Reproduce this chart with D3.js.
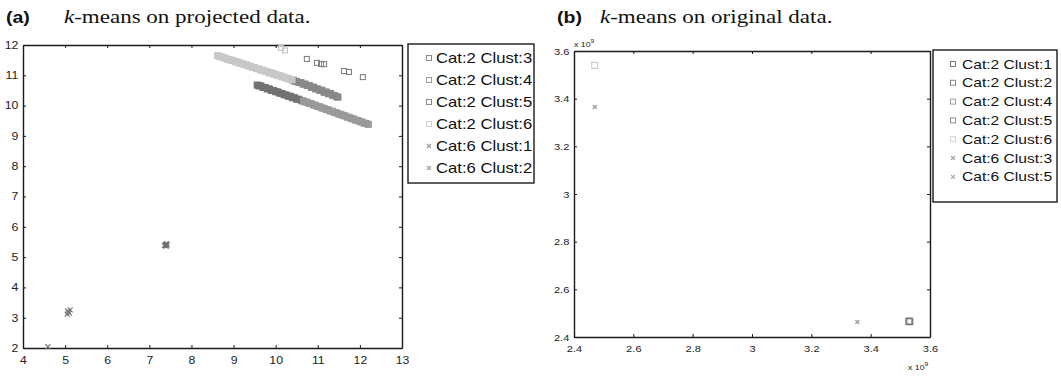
<!DOCTYPE html>
<html>
<head>
<meta charset="utf-8">
<script src="https://cdn.jsdelivr.net/npm/d3@7/dist/d3.min.js"></script>
<style>
  body { margin: 0; background: #fff; }
  svg { display: block; }
</style>
</head>
<body>
<svg id="fig" width="1061" height="376"></svg>
<script>
// ---------- panel (a): k-means on projected data ----------
const projXTicks = [4, 5, 6, 7, 8, 9, 10, 11, 12, 13];
const projYTicks = [2, 3, 4, 5, 6, 7, 8, 9, 10, 11, 12];
const projLegend = ["Cat:2 Clust:3", "Cat:2 Clust:4", "Cat:2 Clust:5", "Cat:2 Clust:6", "Cat:6 Clust:1", "Cat:6 Clust:2"];

// isolated members of each cluster
const projC2Clust3 = [[10.74, 11.54], [10.98, 11.41], [11.08, 11.37], [11.15, 11.37], [11.62, 11.14], [11.74, 11.11], [12.07, 10.94]];
const projC2Clust6 = [[10.13, 11.90], [10.22, 11.82]];
// densely packed members (the diagonal streaks)
const projC2Clust3Dense = [
  [9.56, 10.68], [9.60, 10.65], [9.65, 10.65], [9.70, 10.60], [9.75, 10.60], [9.80, 10.55], [9.85, 10.55],
  [9.90, 10.50], [9.95, 10.50], [10.00, 10.46], [10.05, 10.45], [10.10, 10.41], [10.15, 10.40], [10.20, 10.36],
  [10.25, 10.35], [10.30, 10.31], [10.35, 10.31], [10.40, 10.26], [10.45, 10.26], [10.50, 10.21], [10.55, 10.21],
  [10.62, 10.16]
];
const projC2Clust4Dense = [
  [10.66, 10.15], [10.70, 10.12], [10.75, 10.11], [10.80, 10.07], [10.85, 10.06], [10.90, 10.02], [10.95, 10.01],
  [11.00, 9.97], [11.05, 9.96], [11.10, 9.92], [11.15, 9.91], [11.20, 9.87], [11.25, 9.86], [11.30, 9.82],
  [11.35, 9.81], [11.40, 9.77], [11.45, 9.76], [11.50, 9.72], [11.55, 9.71], [11.60, 9.67], [11.65, 9.66],
  [11.70, 9.62], [11.75, 9.61], [11.80, 9.57], [11.85, 9.56], [11.90, 9.52], [11.95, 9.51], [12.00, 9.47],
  [12.05, 9.46], [12.10, 9.42], [12.15, 9.41], [12.20, 9.38]
];
const projC2Clust5Dense = [
  [10.42, 10.84], [10.46, 10.80], [10.50, 10.80], [10.55, 10.76], [10.60, 10.76], [10.65, 10.71], [10.70, 10.71],
  [10.75, 10.66], [10.80, 10.66], [10.85, 10.60], [10.90, 10.61], [10.95, 10.55], [11.00, 10.55], [11.05, 10.50],
  [11.10, 10.51], [11.15, 10.44], [11.20, 10.45], [11.25, 10.39], [11.30, 10.40], [11.35, 10.34], [11.40, 10.33],
  [11.45, 10.29], [11.48, 10.28]
];
const projC2Clust6Dense = [
  [8.62, 11.65], [8.66, 11.62], [8.70, 11.62], [8.75, 11.58], [8.80, 11.57], [8.85, 11.53], [8.90, 11.52],
  [8.95, 11.49], [9.00, 11.48], [9.05, 11.44], [9.10, 11.44], [9.15, 11.40], [9.20, 11.39], [9.25, 11.35],
  [9.30, 11.35], [9.35, 11.31], [9.40, 11.30], [9.45, 11.26], [9.50, 11.26], [9.55, 11.22], [9.60, 11.21],
  [9.65, 11.17], [9.70, 11.17], [9.75, 11.13], [9.80, 11.12], [9.85, 11.08], [9.90, 11.08], [9.95, 11.04],
  [10.00, 11.03], [10.05, 10.99], [10.10, 10.99], [10.15, 10.95], [10.20, 10.94], [10.25, 10.90], [10.30, 10.90],
  [10.35, 10.86], [10.39, 10.85]
];
const projC6Clust1 = [[7.38, 5.42], [7.40, 5.36], [7.42, 5.40], [7.36, 5.38], [7.41, 5.44], [7.39, 5.39]];
const projC6Clust2 = [[5.05, 3.12], [5.08, 3.18], [5.12, 3.26], [5.10, 3.15], [5.06, 3.22], [4.59, 2.04]];

// ---------- panel (b): k-means on original data ----------
const origTicks = [2.4e9, 2.6e9, 2.8e9, 3.0e9, 3.2e9, 3.4e9, 3.6e9];
const origTickLabels = ["2.4", "2.6", "2.8", "3", "3.2", "3.4", "3.6"];
const origLegend = ["Cat:2 Clust:1", "Cat:2 Clust:2", "Cat:2 Clust:4", "Cat:2 Clust:5", "Cat:2 Clust:6", "Cat:6 Clust:3", "Cat:6 Clust:5"];

const origC2Clust1 = [[3.530e9, 2.466e9]];
const origC2Clust2 = [[3.532e9, 2.464e9]];
const origC2Clust4 = [[3.531e9, 2.467e9]];
const origC2Clust5 = [[3.529e9, 2.465e9]];
const origC2Clust6 = [[2.470e9, 3.540e9]];
const origC6Clust3 = [[2.470e9, 3.365e9]];
const origC6Clust5 = [[3.355e9, 2.463e9]];

// ---------- drawing ----------
const svg = d3.select("#fig");
const SANS = "'Liberation Sans', Arial, Helvetica, sans-serif";
const SERIF = "'Liberation Serif', 'Times New Roman', serif";
const STRETCH = 1.17;   // the typeset figure is set a little wide

function stretchedText(g, x, y, str, opts) {
  const t = g.append("text")
    .attr("transform", `translate(${x},${y}) scale(${opts.sx || STRETCH},1)`)
    .attr("font-family", opts.family || SANS)
    .attr("font-size", opts.size)
    .attr("font-weight", opts.weight || "normal")
    .attr("text-anchor", opts.anchor || "start")
    .attr("fill", opts.fill || "#111");
  t.text(str);
  return t;
}

function drawMarker(g, kind, cx, cy, color, size, fill) {
  const h = size / 2;
  if (kind === "square") {
    g.append("rect")
      .attr("x", cx - h).attr("y", cy - h)
      .attr("width", size).attr("height", size)
      .attr("fill", fill || "none").attr("stroke", color).attr("stroke-width", 1);
  } else {
    g.append("path")
      .attr("d", `M${cx - h},${cy - h}L${cx + h},${cy + h}M${cx - h},${cy + h}L${cx + h},${cy - h}`)
      .attr("fill", "none").attr("stroke", color).attr("stroke-width", 1.2);
  }
}

function drawPanel(cfg) {
  const g = svg.append("g");
  const x = d3.scaleLinear().domain(cfg.xDomain).range([cfg.left, cfg.right]);
  const y = d3.scaleLinear().domain(cfg.yDomain).range([cfg.bottom, cfg.top]);

  const fmt = cfg.labels ? (d, i) => cfg.labels[i] : d3.format("d");

  const styleAxis = sel => {
    sel.selectAll(".domain").attr("stroke", "#1a1a1a").attr("stroke-width", 1.4);
    sel.selectAll(".tick line").attr("stroke", "#1a1a1a").attr("stroke-width", 1);
  };

  // bottom and left: inward ticks with labels
  const ax = g.append("g").attr("transform", `translate(0,${cfg.bottom})`)
    .call(d3.axisBottom(x).tickValues(cfg.xTicks).tickFormat(fmt).tickSizeInner(-3).tickSizeOuter(0).tickPadding(8));
  const ay = g.append("g").attr("transform", `translate(${cfg.left},0)`)
    .call(d3.axisLeft(y).tickValues(cfg.yTicks).tickFormat(fmt).tickSizeInner(-3).tickSizeOuter(0).tickPadding(4));
  // top and right: inward ticks only
  const at = g.append("g").attr("transform", `translate(0,${cfg.top})`)
    .call(d3.axisTop(x).tickValues(cfg.xTicks).tickFormat("").tickSizeInner(-3).tickSizeOuter(0));
  const ar = g.append("g").attr("transform", `translate(${cfg.right},0)`)
    .call(d3.axisRight(y).tickValues(cfg.yTicks).tickFormat("").tickSizeInner(-3).tickSizeOuter(0));
  [ax, ay, at, ar].forEach(styleAxis);

  [ax, ay].forEach(a => a.selectAll(".tick text")
    .attr("font-family", SANS).attr("font-size", cfg.tickSize).attr("fill", "#222"));
  ax.selectAll(".tick text").attr("transform", `scale(${STRETCH},1)`).attr("dy", "0.71em").attr("y", cfg.xLabelGap);
  ay.selectAll(".tick text").attr("transform", `scale(${STRETCH},1)`);

  // markers: packed members first (they merge into solid streaks), isolated ones on top
  const marks = g.append("g");
  cfg.series.forEach(s => {
    (s.dense || []).forEach(p => drawMarker(marks, s.marker, x(p[0]), y(p[1]), s.denseColor, s.size + 1, s.denseColor));
  });
  cfg.series.forEach(s => {
    s.points.forEach(p => drawMarker(marks, s.marker, x(p[0]), y(p[1]), s.color, s.size));
  });

  // legend
  const L = cfg.legend;
  const lg = g.append("g");
  lg.append("rect")
    .attr("x", L.x).attr("y", L.y).attr("width", L.w).attr("height", L.h)
    .attr("fill", "#fff").attr("stroke", "#1a1a1a").attr("stroke-width", 1.4);
  cfg.series.forEach((s, i) => {
    const cy = L.y + L.first + i * L.step;
    drawMarker(lg, s.marker, L.x + L.markerX, cy, s.legendColor, s.marker === "square" ? 5 : 4);
    stretchedText(lg, L.x + L.textX, cy + L.fontSize * 0.36, s.name, { size: L.fontSize, sx: L.sx, fill: "#111" });
  });

  return { g, x, y };
}

// panel (a)
const projSeries = [
  { name: projLegend[0], marker: "square", color: "#777777", legendColor: "#888888", size: 5,
    points: projC2Clust3, dense: projC2Clust3Dense, denseColor: "#727272" },
  { name: projLegend[1], marker: "square", color: "#999999", legendColor: "#999999", size: 5,
    points: [], dense: projC2Clust4Dense, denseColor: "#9a9a9a" },
  { name: projLegend[2], marker: "square", color: "#858585", legendColor: "#8c8c8c", size: 5,
    points: [], dense: projC2Clust5Dense, denseColor: "#888888" },
  { name: projLegend[3], marker: "square", color: "#c0c0c0", legendColor: "#d0d0d0", size: 5,
    points: projC2Clust6, dense: projC2Clust6Dense, denseColor: "#c8c8c8" },
  { name: projLegend[4], marker: "x", color: "#707070", legendColor: "#999999", size: 5, points: projC6Clust1 },
  { name: projLegend[5], marker: "x", color: "#7c7c7c", legendColor: "#a0a0a0", size: 5, points: projC6Clust2 }
];
drawPanel({
  xDomain: [4, 13], yDomain: [2, 12],
  left: 23, right: 402, top: 45, bottom: 348,
  xTicks: projXTicks, yTicks: projYTicks,
  tickSize: 10.5, xLabelGap: 9,
  series: projSeries,
  legend: { x: 408, y: 44, w: 126, h: 139, first: 14, step: 22, markerX: 21, textX: 28, fontSize: 14, sx: 1.19 }
});

// panel (b)
const origSeries = [
  { name: origLegend[0], marker: "square", color: "#555555", legendColor: "#7a7a7a", size: 6, points: origC2Clust1 },
  { name: origLegend[1], marker: "square", color: "#666666", legendColor: "#888888", size: 6, points: origC2Clust2 },
  { name: origLegend[2], marker: "square", color: "#8a8a8a", legendColor: "#a0a0a0", size: 6, points: origC2Clust4 },
  { name: origLegend[3], marker: "square", color: "#777777", legendColor: "#909090", size: 6, points: origC2Clust5 },
  { name: origLegend[4], marker: "square", color: "#c4c4c4", legendColor: "#d0d0d0", size: 6, points: origC2Clust6 },
  { name: origLegend[5], marker: "x", color: "#999999", legendColor: "#a8a8a8", size: 4, points: origC6Clust3 },
  { name: origLegend[6], marker: "x", color: "#999999", legendColor: "#a8a8a8", size: 4, points: origC6Clust5 }
];
const pb = drawPanel({
  xDomain: [2.4e9, 3.6e9], yDomain: [2.4e9, 3.6e9],
  left: 574, right: 930, top: 51, bottom: 337,
  xTicks: origTicks, yTicks: origTicks, labels: origTickLabels,
  tickSize: 9.5, xLabelGap: 8,
  series: origSeries,
  legend: { x: 933, y: 50, w: 124, h: 152, first: 14, step: 18.8, markerX: 20, textX: 29, fontSize: 13, sx: 1.2 }
});

// exponent labels of panel (b)
function exponent(x, y) {
  const t = stretchedText(pb.g, x, y, "", { size: 8, sx: 1.1, fill: "#222" });
  t.append("tspan").text("x 10");
  t.append("tspan").attr("dy", -4).attr("font-size", 6).text("9");
}
exponent(574, 47);
exponent(908, 370);

// panel titles
const titles = svg.append("g");
stretchedText(titles, 6, 23, "(a)", { size: 17, weight: "bold", sx: 1.15 });
const ta = stretchedText(titles, 64, 23, "", { size: 19.5, family: SERIF, sx: 1.18 });
ta.append("tspan").attr("font-style", "italic").text("k");
ta.append("tspan").text("-means on projected data.");
stretchedText(titles, 557, 23, "(b)", { size: 17, weight: "bold", sx: 1.15 });
const tb = stretchedText(titles, 600, 23, "", { size: 19.5, family: SERIF, sx: 1.18 });
tb.append("tspan").attr("font-style", "italic").text("k");
tb.append("tspan").text("-means on original data.");
</script>
</body>
</html>
